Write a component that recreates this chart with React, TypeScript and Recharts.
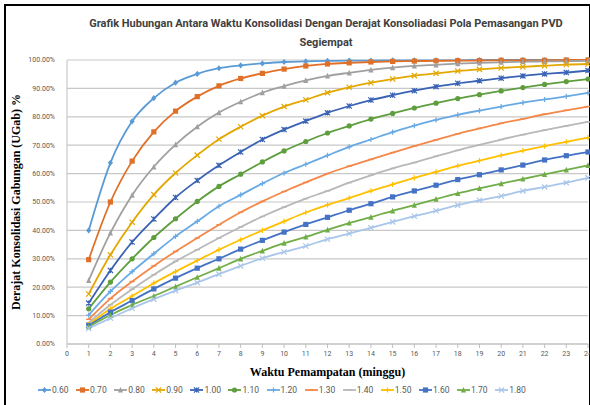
import React from 'react';
import { LineChart, Line, XAxis, YAxis, CartesianGrid } from 'recharts';

// waktu (minggu)
const WEEKS = [1, 2, 3, 4, 5, 6, 7, 8, 9, 10, 11, 12, 13, 14, 15, 16, 17, 18, 19, 20, 21, 22, 23, 24];

// derajat konsolidasi gabungan (%) per jarak PVD
const S060 = [40.0, 63.8, 78.4, 86.6, 92.0, 95.1, 97.1, 98.1, 98.8, 99.3, 99.5, 99.7, 99.8, 99.8, 99.9, 99.9, 99.9, 99.9, 100, 100, 100, 100, 100, 100];
const S070 = [29.7, 50.0, 64.4, 74.7, 82.0, 87.1, 90.9, 93.5, 95.3, 96.8, 97.9, 98.6, 99.0, 99.3, 99.5, 99.6, 99.7, 99.8, 99.8, 99.9, 99.9, 99.9, 100, 100];
const S080 = [22.4, 39.1, 52.4, 62.4, 70.2, 76.5, 81.5, 85.3, 88.5, 90.8, 92.8, 94.4, 95.5, 96.5, 97.3, 97.9, 98.3, 98.7, 99.0, 99.2, 99.4, 99.5, 99.6, 99.7];
const S090 = [17.6, 31.4, 42.9, 52.6, 60.2, 66.5, 72.1, 76.5, 80.4, 83.6, 86.0, 88.5, 90.4, 92.0, 93.3, 94.5, 95.3, 96.1, 96.7, 97.2, 97.6, 98.0, 98.4, 98.6];
const S100 = [14.4, 25.9, 35.9, 44.0, 51.6, 57.6, 62.9, 67.6, 72.0, 75.5, 78.5, 81.4, 83.8, 85.9, 87.6, 89.2, 90.6, 91.8, 92.7, 93.6, 94.4, 95.1, 95.6, 96.3];
const S110 = [12.4, 21.8, 30.0, 37.5, 44.1, 50.2, 55.5, 59.8, 64.1, 68.0, 71.3, 74.3, 76.8, 79.2, 81.2, 83.1, 84.8, 86.4, 87.8, 89.1, 90.3, 91.4, 92.4, 93.3];
const S120 = [10.2, 18.5, 25.5, 31.8, 37.9, 43.2, 48.5, 52.5, 56.5, 60.2, 63.3, 66.4, 69.4, 72.0, 74.6, 76.9, 78.9, 80.7, 82.2, 83.6, 85.0, 86.1, 87.2, 88.4];
const S130 = [8.7, 16.0, 22.0, 27.5, 32.6, 37.3, 42.0, 46.4, 50.2, 53.7, 56.9, 60.0, 62.6, 65.0, 67.4, 69.7, 71.9, 74.0, 75.9, 77.7, 79.3, 80.9, 82.3, 83.6];
const S140 = [7.5, 13.8, 19.3, 24.4, 29.1, 33.2, 37.3, 41.2, 44.9, 48.2, 51.2, 53.9, 56.8, 59.4, 61.8, 63.9, 66.1, 68.2, 70.1, 72.0, 73.7, 75.3, 76.8, 78.2];
const S150 = [6.9, 12.4, 16.9, 21.4, 25.5, 29.4, 33.2, 36.7, 40.0, 43.2, 46.3, 49.0, 51.4, 53.9, 56.2, 58.5, 60.6, 62.7, 64.6, 66.4, 68.1, 69.7, 71.2, 72.7];
const S160 = [6.5, 11.2, 15.3, 19.4, 23.2, 26.7, 30.0, 33.4, 36.5, 39.4, 42.1, 44.6, 47.1, 49.4, 51.8, 53.9, 55.9, 57.9, 59.6, 61.3, 63.0, 64.8, 66.3, 67.6];
const S170 = [6.1, 10.2, 13.8, 16.9, 20.2, 23.5, 26.7, 30.0, 32.8, 35.5, 37.7, 40.2, 42.6, 44.7, 46.9, 48.9, 51.0, 53.0, 54.8, 56.5, 58.1, 59.7, 61.3, 62.9];
const S180 = [5.5, 9.1, 12.6, 15.8, 18.8, 21.6, 24.6, 27.5, 30.2, 32.4, 34.5, 36.9, 38.9, 40.9, 43.0, 45.0, 46.9, 48.9, 50.6, 52.1, 53.9, 55.3, 56.8, 58.5];

const X_TICKS = [0, 1, 2, 3, 4, 5, 6, 7, 8, 9, 10, 11, 12, 13, 14, 15, 16, 17, 18, 19, 20, 21, 22, 23, 24];
const Y_TICKS = [0, 10, 20, 30, 40, 50, 60, 70, 80, 90, 100];

const TITLE_1 = 'Grafik Hubungan Antara Waktu Konsolidasi Dengan Derajat Konsoliadasi Pola Pemasangan PVD';
const TITLE_2 = 'Segiempat';

type Shape = 'diamond' | 'square' | 'triangle' | 'x' | 'star' | 'circle' | 'plus' | 'dash';

const SERIES: { key: string; name: string; values: number[]; color: string; shape: Shape }[] = [
  { key: 's060', name: '0.60', values: S060, color: '#5B9BD5', shape: 'diamond' },
  { key: 's070', name: '0.70', values: S070, color: '#E07028', shape: 'square' },
  { key: 's080', name: '0.80', values: S080, color: '#A0A0A0', shape: 'triangle' },
  { key: 's090', name: '0.90', values: S090, color: '#E3A700', shape: 'x' },
  { key: 's100', name: '1.00', values: S100, color: '#3A62B5', shape: 'star' },
  { key: 's110', name: '1.10', values: S110, color: '#5E9E3E', shape: 'circle' },
  { key: 's120', name: '1.20', values: S120, color: '#6AAAE4', shape: 'plus' },
  { key: 's130', name: '1.30', values: S130, color: '#F4884A', shape: 'dash' },
  { key: 's140', name: '1.40', values: S140, color: '#B8B8B8', shape: 'dash' },
  { key: 's150', name: '1.50', values: S150, color: '#FFC000', shape: 'plus' },
  { key: 's160', name: '1.60', values: S160, color: '#4472C4', shape: 'square' },
  { key: 's170', name: '1.70', values: S170, color: '#70AD47', shape: 'triangle' },
  { key: 's180', name: '1.80', values: S180, color: '#A9C6EA', shape: 'x' },
];

const data = WEEKS.map((w, i) => {
  const row: Record<string, number> = { week: w };
  SERIES.forEach(s => { row[s.key] = s.values[i]; });
  return row;
});

const Marker = ({ shape, color, cx, cy }: { shape: Shape; color: string; cx: number; cy: number }) => {
  const r = 2.6;
  switch (shape) {
    case 'diamond':
      return <path d={`M${cx},${cy - r - 0.5}L${cx + r},${cy}L${cx},${cy + r + 0.5}L${cx - r},${cy}Z`} fill={color} />;
    case 'square':
      return <rect x={cx - r} y={cy - r} width={r * 2} height={r * 2} fill={color} />;
    case 'triangle':
      return <path d={`M${cx},${cy - r - 0.5}L${cx + r},${cy + r}L${cx - r},${cy + r}Z`} fill={color} />;
    case 'circle':
      return <circle cx={cx} cy={cy} r={r} fill={color} />;
    case 'x':
      return <path d={`M${cx - r},${cy - r}L${cx + r},${cy + r}M${cx + r},${cy - r}L${cx - r},${cy + r}`} stroke={color} strokeWidth={1.2} />;
    case 'star':
      return <path d={`M${cx - r},${cy - r}L${cx + r},${cy + r}M${cx + r},${cy - r}L${cx - r},${cy + r}M${cx},${cy - r}L${cx},${cy + r}`} stroke={color} strokeWidth={1.2} />;
    case 'plus':
      return <path d={`M${cx - r},${cy}L${cx + r},${cy}M${cx},${cy - r}L${cx},${cy + r}`} stroke={color} strokeWidth={1.2} />;
    default:
      return <path d={`M${cx - r},${cy}L${cx + r},${cy}`} stroke={color} strokeWidth={1.4} />;
  }
};

const tickStyle = { fill: '#595959', fontSize: 7, fontFamily: 'Roboto, sans-serif' };

const App = () => {
  return (
    <div style={{ position: 'absolute', left: 0, top: 0, width: 590, height: 405, background: '#fff', overflow: 'hidden' }}>
      <div style={{ position: 'absolute', left: 4, top: 4, width: 583, height: 420, borderLeft: '2.5px solid #000', borderTop: '2.5px solid #000', borderRight: '2.5px solid #000' }} />
      <div
        style={{
          position: 'absolute', left: 66, width: 520, top: 14, textAlign: 'center', whiteSpace: 'nowrap',
          fontFamily: 'Roboto, sans-serif', fontSize: 11, fontWeight: 'bold', color: '#404040', lineHeight: '19px',
        }}
      >
        <div>{TITLE_1}</div>
        <div>{TITLE_2}</div>
      </div>
      <div style={{ position: 'absolute', left: 0, top: 0 }}>
        <LineChart width={590} height={405} data={data} margin={{ top: 60, right: 2, left: 0, bottom: 29 }}>
          <CartesianGrid vertical={false} stroke="#C8C8C8" strokeWidth={1.2} />
          <XAxis
            dataKey="week"
            type="number"
            domain={[0, 24]}
            ticks={X_TICKS}
            interval={0}
            height={32}
            stroke="#BFBFBF"
            tickSize={4}
            tickMargin={3}
            tick={tickStyle}
            label={{
              value: 'Waktu Pemampatan (minggu)', position: 'insideBottom', offset: 0,
              style: { fill: '#000', fontSize: 12, fontWeight: 'bold', fontFamily: "'Liberation Serif', serif" },
            }}
          />
          <YAxis
            type="number"
            domain={[0, 100]}
            ticks={Y_TICKS}
            width={67}
            stroke="#BFBFBF"
            tickLine={false}
            tickMargin={6}
            tick={tickStyle}
            tickFormatter={(v: number) => `${v.toFixed(2)}%`}
            label={{
              value: 'Derajat Konsolidasi Gabungan (UGab) %', angle: -90, position: 'insideLeft', offset: 16,
              style: { textAnchor: 'middle', fill: '#000', fontSize: 12, fontWeight: 'bold', fontFamily: "'Liberation Serif', serif" },
            }}
          />
          {SERIES.map(s => (
            <Line
              key={s.key}
              dataKey={s.key}
              name={s.name}
              type="monotone"
              stroke={s.color}
              strokeWidth={1.8}
              isAnimationActive={false}
              dot={(p: any) => <Marker key={`${s.key}-${p.index}`} shape={s.shape} color={s.color} cx={p.cx} cy={p.cy} />}
              activeDot={false}
            />
          ))}
        </LineChart>
      </div>
      <div style={{ position: 'absolute', left: 38, top: 385, display: 'flex', fontFamily: 'Roboto, sans-serif', fontSize: 8.5, color: '#595959' }}>
        {SERIES.map(s => (
          <div key={s.key} style={{ width: 38.1, display: 'flex', alignItems: 'center' }}>
            <svg width={13} height={8}>
              <line x1={0} y1={4} x2={13} y2={4} stroke={s.color} strokeWidth={1.8} />
              <Marker shape={s.shape} color={s.color} cx={6.5} cy={4} />
            </svg>
            <span style={{ marginLeft: 1 }}>{s.name}</span>
          </div>
        ))}
      </div>
    </div>
  );
};

export default App;
